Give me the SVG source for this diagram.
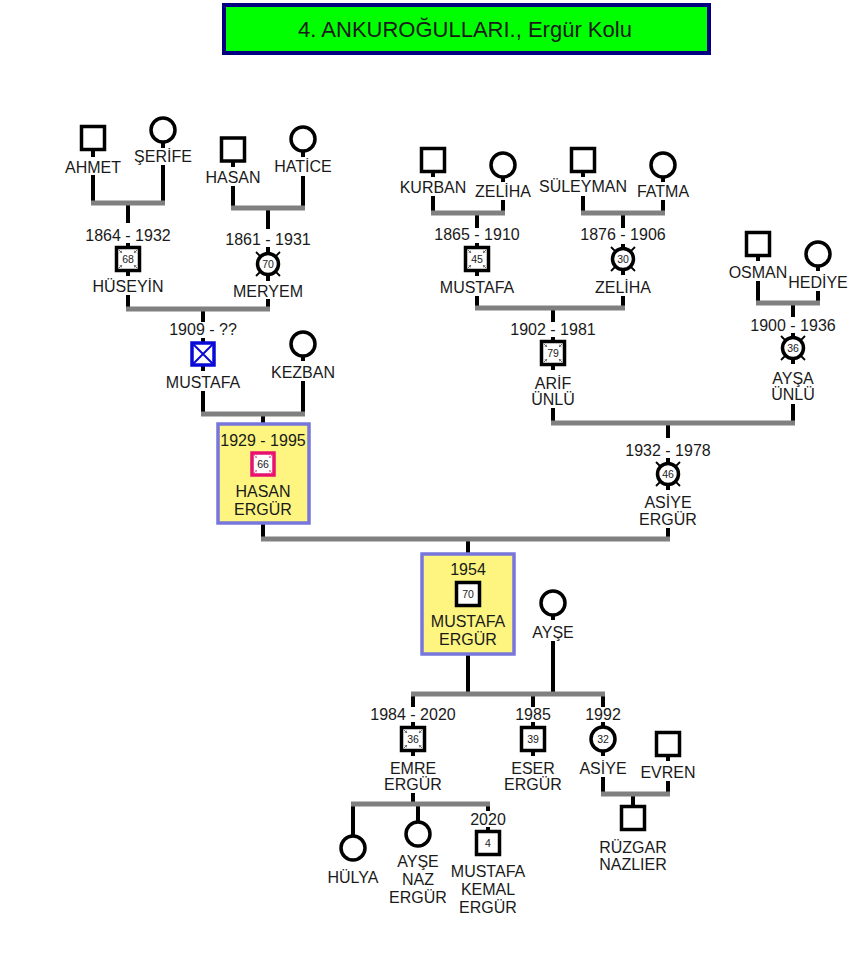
<svg xmlns="http://www.w3.org/2000/svg" width="857" height="976" viewBox="0 0 857 976">
<style>
.stem{stroke:#000;stroke-width:4;fill:none}
.bar{stroke:#808080;stroke-width:5;fill:none}
.sq{fill:#fff;stroke:#000;stroke-width:3.5}
.ci{fill:#fff;stroke:#000;stroke-width:3.5}
.t{font-family:"Liberation Sans",Arial,sans-serif;font-size:16px;fill:#1a1a1a;text-anchor:middle}
.num{font-family:"Liberation Sans",Arial,sans-serif;font-size:10.5px;fill:#1a1a1a;text-anchor:middle}
.dsq line{stroke:#666;stroke-width:1}
.dsqp line{stroke:#e87aa8;stroke-width:1}
.dci line{stroke:#000;stroke-width:1.8}
.box{fill:#fdf580;stroke:#7676dc;stroke-width:3.5}
</style>
<defs>
<marker id="ah" viewBox="0 0 6 6" refX="5" refY="3" markerWidth="3" markerHeight="3" orient="auto"><path d="M0 0L6 3L0 6z" fill="#666"/></marker>
<marker id="ahp" viewBox="0 0 6 6" refX="5" refY="3" markerWidth="3" markerHeight="3" orient="auto"><path d="M0 0L6 3L0 6z" fill="#e87aa8"/></marker>
<g id="dsq" class="dsq">
<line x1="-9" y1="-9" x2="-6" y2="-6" marker-end="url(#ah)"/><line x1="9" y1="-9" x2="6" y2="-6" marker-end="url(#ah)"/>
<line x1="-9" y1="9" x2="-6" y2="6" marker-end="url(#ah)"/><line x1="9" y1="9" x2="6" y2="6" marker-end="url(#ah)"/>
</g>
<g id="dsqp" class="dsqp">
<line x1="-9" y1="-9" x2="-6" y2="-6" marker-end="url(#ahp)"/><line x1="9" y1="-9" x2="6" y2="-6" marker-end="url(#ahp)"/>
<line x1="-9" y1="9" x2="-6" y2="6" marker-end="url(#ahp)"/><line x1="9" y1="9" x2="6" y2="6" marker-end="url(#ahp)"/>
</g>
<g id="dci" class="dci">
<line x1="-6.5" y1="-6.5" x2="-12" y2="-12"/><line x1="6.5" y1="-6.5" x2="12" y2="-12"/>
<line x1="-6.5" y1="6.5" x2="-12" y2="12"/><line x1="6.5" y1="6.5" x2="12" y2="12"/>
</g>
</defs>
<rect width="857" height="976" fill="#fff"/>

<g id="title">
<rect x="224" y="5" width="485" height="48" fill="#00ff00" stroke="#000080" stroke-width="4"/>
<text x="465" y="37" class="t" style="font-size:22px">4. ANKUROĞULLARI., Ergür Kolu</text>
</g>

<g id="connectors">
<path class="stem" d="M93 151V157M93 175V203M163 143V148M163 165V203M128 203V223M128 243V247M128 271V276M128 295V309
M233 162V167M233 186V208M303 152V157M303 176V208M268 208V229M268 247V252M268 276V281M268 299V309
M203 309V322M203 338V342M203 366V371M203 391V414M303 357V361M303 381V414M263 414V424M263 448V452M263 476V481M263 523V539
M433 172V177M433 196V213M503 178V182M503 200V213M477 213V228M477 243V247M477 271V276M477 296V308
M583 172V177M583 196V213M663 178V182M663 200V213M623 213V228M623 244V248M623 270V275M623 296V308
M553 308V322M553 337V341M553 365V370M553 408V423M758 256V261M758 281V303M818 267V271M818 291V303
M793 303V317M793 333V337M793 359V364M793 404V423M668 423V438M668 458V463M668 485V490M668 528V539
M468 539V554M468 577V581M468 607V611M468 654V694M553 616V620M553 641V694
M413 694V707M413 722V727M413 751V756M413 793V804M533 694V707M533 722V727M533 751V756
M603 694V707M603 722V726M603 752V756M603 777V794M668 756V761M668 781V794M633 794V806
M353 804V836M418 804V822M488 804V811M488 827V831"/>
<path class="bar" d="M91 203H165M231 208H305M126 309H270M201 414H305M431 213H505M581 213H665M475 308H625M756 303H820M551 423H795M261 539H670M411 694H605M601 794H670M351 804H490"/>
</g>

<g id="n-ahmet"><rect class="sq" x="81.5" y="126.5" width="23" height="23"/><text class="t" x="93" y="173">AHMET</text></g>
<g id="n-serife"><circle class="ci" cx="163" cy="130" r="12"/><text class="t" x="163" y="162">ŞERİFE</text></g>
<g id="n-hasan1"><rect class="sq" x="221.5" y="138" width="23" height="23"/><text class="t" x="233" y="183">HASAN</text></g>
<g id="n-hatice"><circle class="ci" cx="303" cy="139" r="12"/><text class="t" x="303" y="172">HATİCE</text></g>
<g id="n-huseyin"><text class="t" x="128" y="241">1864 - 1932</text><rect class="sq" x="116.5" y="247.5" width="23" height="23"/><use href="#dsq" x="128" y="259"/><text class="num" x="128" y="262.5">68</text><text class="t" x="128" y="292">HÜSEYİN</text></g>
<g id="n-meryem"><text class="t" x="268" y="245">1861 - 1931</text><circle class="ci" cx="268" cy="264" r="10.5"/><use href="#dci" x="268" y="264"/><text class="num" x="268" y="267.5">70</text><text class="t" x="268" y="297">MERYEM</text></g>
<g id="n-mustafa1"><text class="t" x="203" y="335">1909 - ??</text><rect x="192" y="343" width="22" height="22" fill="#fff" stroke="#0a0ad6" stroke-width="3.5"/><path d="M193.5 344.5L212.5 363.5M212.5 344.5L193.5 363.5" stroke="#0a0ad6" stroke-width="2"/><text class="t" x="203" y="388">MUSTAFA</text></g>
<g id="n-kezban"><circle class="ci" cx="303" cy="344" r="12"/><text class="t" x="303" y="378">KEZBAN</text></g>
<g id="n-hasan-ergur"><rect class="box" x="218" y="424" width="91" height="99"/><text class="t" x="263" y="446">1929 - 1995</text><rect x="252" y="453" width="22" height="22" fill="#fff" stroke="#e8116e" stroke-width="3.5"/><use href="#dsqp" x="263" y="464"/><text class="num" x="263" y="467.5">66</text><text class="t" x="263" y="497">HASAN</text><text class="t" x="263" y="515">ERGÜR</text></g>

<g id="n-kurban"><rect class="sq" x="421.5" y="148.5" width="23" height="23"/><text class="t" x="433" y="193">KURBAN</text></g>
<g id="n-zeliha1"><circle class="ci" cx="503" cy="165" r="12"/><text class="t" x="503" y="197">ZELİHA</text></g>
<g id="n-suleyman"><rect class="sq" x="571.5" y="148.5" width="23" height="23"/><text class="t" x="583" y="192">SÜLEYMAN</text></g>
<g id="n-fatma"><circle class="ci" cx="663" cy="165" r="12"/><text class="t" x="663" y="197">FATMA</text></g>
<g id="n-mustafa2"><text class="t" x="477" y="240">1865 - 1910</text><rect class="sq" x="465.5" y="247.5" width="23" height="23"/><use href="#dsq" x="477" y="259"/><text class="num" x="477" y="262.5">45</text><text class="t" x="477" y="293">MUSTAFA</text></g>
<g id="n-zeliha2"><text class="t" x="623" y="240">1876 - 1906</text><circle class="ci" cx="623" cy="259" r="10.5"/><use href="#dci" x="623" y="259"/><text class="num" x="623" y="262.5">30</text><text class="t" x="623" y="293">ZELİHA</text></g>
<g id="n-arif"><text class="t" x="553" y="335">1902 - 1981</text><rect class="sq" x="541.5" y="341.5" width="23" height="23"/><use href="#dsq" x="553" y="353"/><text class="num" x="553" y="356.5">79</text><text class="t" x="553" y="389">ARİF</text><text class="t" x="553" y="405">ÜNLÜ</text></g>
<g id="n-osman"><rect class="sq" x="746.5" y="232.5" width="23" height="23"/><text class="t" x="758" y="278">OSMAN</text></g>
<g id="n-hediye"><circle class="ci" cx="818" cy="254" r="12"/><text class="t" x="818" y="288">HEDİYE</text></g>
<g id="n-aysa"><text class="t" x="793" y="331">1900 - 1936</text><circle class="ci" cx="793" cy="348" r="10.5"/><use href="#dci" x="793" y="348"/><text class="num" x="793" y="351.5">36</text><text class="t" x="793" y="384">AYŞA</text><text class="t" x="793" y="400">ÜNLÜ</text></g>
<g id="n-asiye1"><text class="t" x="668" y="456">1932 - 1978</text><circle class="ci" cx="668" cy="474" r="10.5"/><use href="#dci" x="668" y="474"/><text class="num" x="668" y="477.5">46</text><text class="t" x="668" y="508">ASİYE</text><text class="t" x="668" y="525">ERGÜR</text></g>

<g id="n-mustafa-ergur"><rect class="box" x="422" y="554" width="92" height="100"/><text class="t" x="468" y="575">1954</text><rect class="sq" x="456.5" y="582.5" width="23" height="23"/><text class="num" x="468" y="597.5">70</text><text class="t" x="468" y="627">MUSTAFA</text><text class="t" x="468" y="645">ERGÜR</text></g>
<g id="n-ayse"><circle class="ci" cx="553" cy="603" r="12"/><text class="t" x="553" y="638">AYŞE</text></g>

<g id="n-emre"><text class="t" x="413" y="720">1984 - 2020</text><rect class="sq" x="401.5" y="727.5" width="23" height="23"/><use href="#dsq" x="413" y="739"/><text class="num" x="413" y="742.5">36</text><text class="t" x="413" y="774">EMRE</text><text class="t" x="413" y="790">ERGÜR</text></g>
<g id="n-eser"><text class="t" x="533" y="720">1985</text><rect class="sq" x="521.5" y="727.5" width="23" height="23"/><text class="num" x="533" y="742.5">39</text><text class="t" x="533" y="774">ESER</text><text class="t" x="533" y="790">ERGÜR</text></g>
<g id="n-asiye2"><text class="t" x="603" y="720">1992</text><circle class="ci" cx="603" cy="739" r="12"/><text class="num" x="603" y="742.5">32</text><text class="t" x="603" y="774">ASİYE</text></g>
<g id="n-evren"><rect class="sq" x="656.5" y="732.5" width="23" height="23"/><text class="t" x="668" y="778">EVREN</text></g>
<g id="n-ruzgar"><rect class="sq" x="621.5" y="806.5" width="23" height="23"/><text class="t" x="633" y="853">RÜZGAR</text><text class="t" x="633" y="870">NAZLIER</text></g>
<g id="n-hulya"><circle class="ci" cx="353" cy="848" r="12"/><text class="t" x="353" y="883">HÜLYA</text></g>
<g id="n-ayse-naz"><circle class="ci" cx="418" cy="834" r="12"/><text class="t" x="418" y="867">AYŞE</text><text class="t" x="418" y="885">NAZ</text><text class="t" x="418" y="903">ERGÜR</text></g>
<g id="n-mustafa-kemal"><text class="t" x="488" y="825">2020</text><rect class="sq" x="476.5" y="831.5" width="23" height="23"/><text class="num" x="488" y="846.5">4</text><text class="t" x="488" y="877">MUSTAFA</text><text class="t" x="488" y="895">KEMAL</text><text class="t" x="488" y="913">ERGÜR</text></g>
</svg>
